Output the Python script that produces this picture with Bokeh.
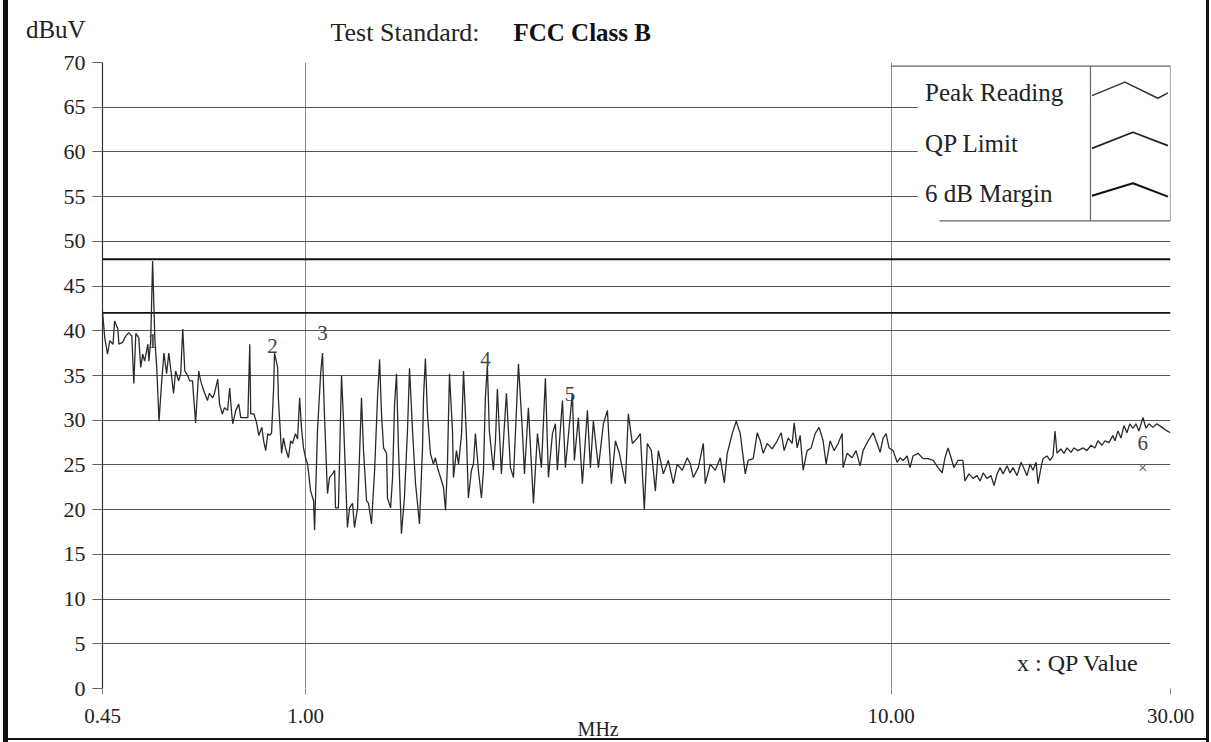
from bokeh.plotting import figure
from bokeh.models import FixedTicker, Label, Range1d
from bokeh.core.properties import value
from bokeh.embed import file_html
from bokeh.resources import INLINE

# ---------------- data ----------------
freq_mhz = [
    0.450, 0.454, 0.459, 0.463, 0.469, 0.472, 0.478, 0.480, 0.487, 0.493,
    0.499, 0.505, 0.509, 0.513, 0.519, 0.523, 0.527, 0.531, 0.538, 0.540,
    0.544, 0.548, 0.553, 0.557, 0.562, 0.568, 0.573, 0.579, 0.584, 0.591,
    0.595, 0.600, 0.607, 0.612, 0.617, 0.622, 0.629, 0.634, 0.641, 0.649,
    0.657, 0.662, 0.670, 0.680, 0.685, 0.694, 0.699, 0.708, 0.713, 0.721,
    0.727, 0.736, 0.742, 0.748, 0.751, 0.760, 0.769, 0.775, 0.784, 0.797,
    0.803, 0.806, 0.816, 0.825, 0.832, 0.842, 0.848, 0.855, 0.862, 0.868,
    0.875, 0.882, 0.885, 0.896, 0.899, 0.910, 0.917, 0.924, 0.935, 0.943,
    0.950, 0.961, 0.969, 0.977, 0.984, 0.992, 1.000, 1.008, 1.020, 1.032,
    1.036, 1.048, 1.061, 1.069, 1.077, 1.090, 1.099, 1.112, 1.121, 1.125,
    1.138, 1.147, 1.152, 1.161, 1.179, 1.189, 1.203, 1.212, 1.227, 1.236,
    1.246, 1.256, 1.271, 1.281, 1.296, 1.312, 1.327, 1.338, 1.348, 1.359,
    1.375, 1.380, 1.397, 1.408, 1.419, 1.430, 1.441, 1.458, 1.475, 1.493,
    1.505, 1.523, 1.541, 1.553, 1.565, 1.584, 1.590, 1.602, 1.615, 1.634,
    1.653, 1.666, 1.680, 1.700, 1.720, 1.734, 1.747, 1.761, 1.782, 1.789,
    1.810, 1.825, 1.847, 1.861, 1.883, 1.897, 1.920, 1.935, 1.950, 1.973,
    1.997, 2.013, 2.028, 2.044, 2.060, 2.093, 2.110, 2.126, 2.160, 2.203,
    2.238, 2.265, 2.310, 2.347, 2.365, 2.402, 2.450, 2.489, 2.528, 2.568,
    2.599, 2.640, 2.671, 2.692, 2.746, 2.778, 2.855, 2.878, 2.923, 2.970,
    3.029, 3.065, 3.101, 3.163, 3.226, 3.277, 3.329, 3.382, 3.435, 3.517,
    3.558, 3.615, 3.687, 3.730, 3.789, 3.834, 3.895, 3.957, 4.004, 4.083,
    4.164, 4.246, 4.313, 4.399, 4.486, 4.540, 4.594, 4.685, 4.778, 4.815,
    4.911, 5.008, 5.108, 5.189, 5.250, 5.354, 5.439, 5.525, 5.635, 5.701,
    5.814, 5.907, 5.977, 6.047, 6.143, 6.265, 6.389, 6.490, 6.567, 6.671,
    6.777, 6.830, 6.911, 6.993, 7.076, 7.187, 7.302, 7.417, 7.534, 7.653,
    7.744, 7.867, 7.991, 8.118, 8.247, 8.280, 8.410, 8.577, 8.713, 8.851,
    8.956, 9.136, 9.317, 9.464, 9.576, 9.689, 9.803, 9.919, 10.08, 10.24,
    10.36, 10.48, 10.65, 10.77, 10.90, 11.12, 11.34, 11.56, 11.80, 12.03,
    12.22, 12.36, 12.51, 12.66, 12.80, 13.01, 13.26, 13.37, 13.58, 13.80,
    14.02, 14.19, 14.36, 14.58, 14.81, 14.99, 15.17, 15.35, 15.53, 15.78,
    15.96, 16.15, 16.41, 16.67, 16.86, 17.06, 17.27, 17.47, 17.68, 17.82,
    18.03, 18.17, 18.46, 18.68, 18.90, 19.05, 19.20, 19.50, 19.73, 19.97,
    20.29, 20.53, 20.85, 21.27, 21.60, 21.94, 22.29, 22.55, 22.91, 23.18,
    23.55, 23.92, 24.11, 24.40, 24.69, 24.98, 25.28, 25.57, 25.88, 26.18,
    26.50, 26.92, 27.24, 27.56, 28.00, 28.44, 29.01, 29.59, 30.00,
]
peak_dbuv = [
    42.2, 39.2, 37.4, 38.9, 38.5, 41.1, 40.2, 38.5, 38.7, 39.4,
    39.8, 39.4, 34.1, 39.7, 39.2, 35.9, 37.4, 36.6, 38.5, 36.6,
    38.9, 47.8, 38.9, 35.9, 29.9, 34.4, 37.5, 35.2, 37.5, 34.7,
    33.0, 35.5, 34.4, 35.2, 40.2, 35.5, 35.0, 34.4, 34.4, 29.7,
    35.5, 34.4, 33.3, 32.2, 33.0, 32.5, 33.0, 34.6, 31.8, 30.7,
    31.4, 31.1, 33.6, 30.7, 29.6, 31.1, 31.8, 30.3, 30.3, 30.3,
    38.5, 30.7, 30.7, 29.7, 28.3, 29.2, 27.7, 26.6, 28.5, 28.3,
    28.6, 33.6, 37.5, 35.9, 32.2, 26.3, 28.0, 26.9, 25.8, 27.7,
    27.4, 28.5, 27.9, 32.5, 29.2, 26.9, 25.8, 25.1, 22.1, 21.0,
    17.7, 28.8, 35.2, 37.5, 30.7, 21.8, 23.6, 24.0, 24.4, 20.2,
    20.2, 29.9, 35.0, 29.9, 18.0, 20.2, 20.7, 18.0, 20.2, 25.8,
    32.5, 26.6, 21.0, 20.7, 18.4, 24.4, 32.5, 36.8, 30.7, 26.9,
    26.3, 21.3, 20.2, 23.6, 31.8, 35.2, 26.9, 17.3, 21.3, 28.8,
    35.8, 28.8, 22.9, 20.7, 18.4, 26.9, 32.5, 36.9, 30.7, 26.3,
    25.1, 25.8, 24.7, 23.6, 22.5, 19.9, 25.1, 35.2, 28.8, 23.6,
    26.6, 25.1, 28.5, 35.5, 28.0, 21.3, 24.4, 25.1, 28.5, 24.4,
    21.3, 24.4, 32.5, 36.1, 28.8, 24.4, 27.7, 33.5, 24.0, 33.0,
    24.7, 23.6, 36.3, 28.5, 24.0, 31.4, 20.7, 28.5, 24.7, 34.7,
    23.6, 28.5, 29.6, 24.4, 32.2, 24.7, 33.0, 25.5, 30.3, 22.9,
    31.1, 24.7, 29.9, 24.7, 29.6, 31.1, 22.9, 27.7, 26.3, 22.9,
    30.7, 27.4, 28.0, 28.5, 20.0, 27.4, 26.6, 22.1, 26.6, 24.0,
    25.5, 22.9, 25.1, 24.4, 25.8, 25.1, 23.6, 24.7, 27.4, 22.9,
    25.1, 24.4, 25.8, 23.0, 26.3, 28.5, 29.9, 28.5, 24.0, 25.5,
    25.7, 28.6, 27.7, 26.3, 27.4, 26.8, 27.7, 28.6, 26.6, 28.0,
    27.4, 29.7, 26.9, 28.3, 24.4, 26.6, 26.9, 28.5, 29.2, 27.7,
    25.1, 27.7, 26.6, 27.4, 28.5, 24.7, 26.3, 25.8, 26.6, 24.9,
    26.6, 27.7, 28.6, 27.4, 26.4, 28.0, 28.5, 26.9, 26.6, 25.3,
    25.8, 25.5, 26.0, 24.7, 26.0, 26.3, 25.7, 25.7, 25.5, 24.7,
    24.1, 25.8, 26.9, 25.8, 24.7, 25.5, 25.5, 23.2, 24.0, 23.5,
    23.8, 23.2, 24.1, 23.5, 23.8, 22.7, 24.0, 24.7, 24.0, 24.9,
    24.1, 24.7, 23.8, 25.3, 24.6, 23.8, 25.1, 24.4, 25.3, 22.9,
    24.7, 25.7, 26.0, 25.5, 26.0, 28.8, 26.3, 26.8, 26.3, 26.9,
    26.4, 26.9, 26.6, 26.9, 26.6, 27.2, 26.9, 27.7, 27.2, 27.7,
    27.5, 28.3, 27.7, 28.8, 28.0, 29.4, 28.6, 29.6, 29.1, 29.6,
    28.8, 30.3, 29.1, 29.6, 29.2, 29.6, 29.2, 28.8, 28.6,
]
assert len(freq_mhz) == len(peak_dbuv)

limit_freq = [0.45, 30.0]
qp_limit = [48.0, 48.0]
margin_6db = [42.0, 42.0]

marker_freq = [0.548, 0.878, 1.069, 2.03, 2.83, 26.9]
marker_level = [38.9, 38.3, 39.8, 36.9, 32.9, 27.4]
marker_text = ["1", "2", "3", "4", "5", "6"]

qp_freq = [26.9]
qp_value = [24.7]

x_ticks = [0.45, 1.0, 10.0, 30.0]
x_tick_labels = ["0.45", "1.00", "10.00", "30.00"]
y_ticks = [0, 5, 10, 15, 20, 25, 30, 35, 40, 45, 50, 55, 60, 65, 70]
y_grid = [5, 10, 15, 20, 25, 30, 35, 40, 45, 50, 55, 60, 65, 70]
x_grid = [1.0, 10.0]

legend_names = ["Peak Reading", "QP Limit", "6 dB Margin"]

SERIF = "Liberation Serif"
INK = "#222222"

# ---------------- figure ----------------
p = figure(width=1211, height=742, x_axis_type="log",
           x_range=Range1d(0.45, 30.0), y_range=Range1d(0, 70),
           output_backend="svg", toolbar_location=None,
           min_border_left=102, min_border_right=40,
           min_border_top=62, min_border_bottom=54)
p.outline_line_alpha = 0
p.background_fill_color = "white"
p.border_fill_alpha = 0
# black edge of the scanned sheet (left, right, bottom)
p.styles = {
    "background-color": "white",
    "box-shadow": ("inset 3px 0 0 0 white, inset 8px 0 0 0 #111111, "
                   "inset -2px 0 0 0 white, inset -5px 0 0 0 #111111, "
                   "inset 0 -2px 0 0 white, inset 0 -4px 0 0 #111111"),
}

# grids
p.xgrid.ticker = FixedTicker(ticks=x_grid, minor_ticks=[])
p.ygrid.ticker = FixedTicker(ticks=y_grid, minor_ticks=[])
p.xgrid.grid_line_color = "#8a8a8a"
p.xgrid.grid_line_width = 1
p.ygrid.grid_line_color = "#555555"
p.ygrid.grid_line_width = 1.2

# x axis
p.xaxis.ticker = FixedTicker(ticks=x_ticks, minor_ticks=[])
p.xaxis.major_label_overrides = dict(zip(x_ticks, x_tick_labels))
p.xaxis.axis_line_alpha = 0
p.xaxis.major_tick_out = 6
p.xaxis.major_tick_in = 0
p.xaxis.major_tick_line_color = "#888888"
p.xaxis.minor_tick_line_alpha = 0
p.xaxis.major_label_standoff = 14
p.xaxis.major_label_text_font = SERIF
p.xaxis.major_label_text_font_size = "21px"
p.xaxis.major_label_text_color = INK

# y axis
p.yaxis.ticker = FixedTicker(ticks=y_ticks, minor_ticks=[])
p.yaxis.axis_line_color = "#333333"
p.yaxis.axis_line_width = 1.2
p.yaxis.major_tick_out = 10
p.yaxis.major_tick_in = 0
p.yaxis.major_tick_line_color = "#666666"
p.yaxis.minor_tick_line_alpha = 0
p.yaxis.major_label_standoff = 7
p.yaxis.major_label_text_font = SERIF
p.yaxis.major_label_text_font_size = "22px"
p.yaxis.major_label_text_color = INK

# ---------------- legend box background (under the data lines) ----------------
p.quad(left=[11.1], right=[30.0], bottom=[52.3], top=[69.6],
       fill_color="white", line_alpha=0)
p.segment(x0=[10.0, 12.1, 30.0, 21.9], y0=[69.6, 52.3, 52.3, 52.3],
          x1=[30.0, 30.0, 30.0, 21.9], y1=[69.6, 52.3, 69.6, 69.6],
          line_color="#666666", line_width=1.2)

# limit lines
p.line(limit_freq, qp_limit, line_color="#111111", line_width=1.8)
p.line(limit_freq, margin_6db, line_color="#111111", line_width=1.8)

# peak trace
p.line(freq_mhz, peak_dbuv, line_color="#2a2a2a", line_width=1.3)

# QP value marker
p.scatter(qp_freq, qp_value, marker="x", size=9, line_color="#777777", line_width=1.2)

# marker numbers
p.text(x=marker_freq, y=marker_level, text=marker_text,
       text_font=value(SERIF), text_font_size="21px", text_color="#444444",
       text_align="center", text_baseline="alphabetic")

# legend entries
legend_y = [66.6, 60.9, 55.3]
for name, ly in zip(legend_names, legend_y):
    p.add_layout(Label(x=11.43, y=ly, text=name, text_font=SERIF,
                       text_font_size="25px", text_color=INK,
                       text_align="left", text_baseline="middle"))
p.line([22.03, 25.07, 28.55, 29.70], [66.3, 67.8, 66.0, 66.6], line_color="#333333", line_width=1.5)
p.line([22.03, 25.88, 29.70], [60.4, 62.2, 60.7], line_color="#222222", line_width=1.8)
p.line([22.03, 25.88, 29.70], [55.1, 56.5, 55.0], line_color="#111111", line_width=2.0)

p.add_layout(Label(x=16.41, y=2.9, text="x : QP Value", text_font=SERIF,
                   text_font_size="24px", text_color=INK,
                   text_align="left", text_baseline="middle"))

# ---------------- texts outside the frame ----------------
# (placed in side panels, which are not clipped; each panel has room for them)
p.add_layout(Label(x=0.333, y=73.7, text="dBuV", text_font=SERIF,
                   text_font_size="25px", text_color=INK,
                   text_align="left", text_baseline="middle"), "left")
p.add_layout(Label(x=1.103, y=73.4, text="Test Standard:", text_font=SERIF,
                   text_font_size="26px", text_color=INK,
                   text_align="left", text_baseline="middle"), "above")
p.add_layout(Label(x=2.265, y=73.4, text="FCC Class B", text_font=SERIF,
                   text_font_size="25px", text_font_style="bold", text_color="#111111",
                   text_align="left", text_baseline="middle"), "above")
p.add_layout(Label(x=3.16, y=-4.5, text="MHz", text_font=SERIF,
                   text_font_size="20px", text_color=INK,
                   text_align="center", text_baseline="middle"), "right")

open("out.html", "w").write(file_html(p, INLINE))
